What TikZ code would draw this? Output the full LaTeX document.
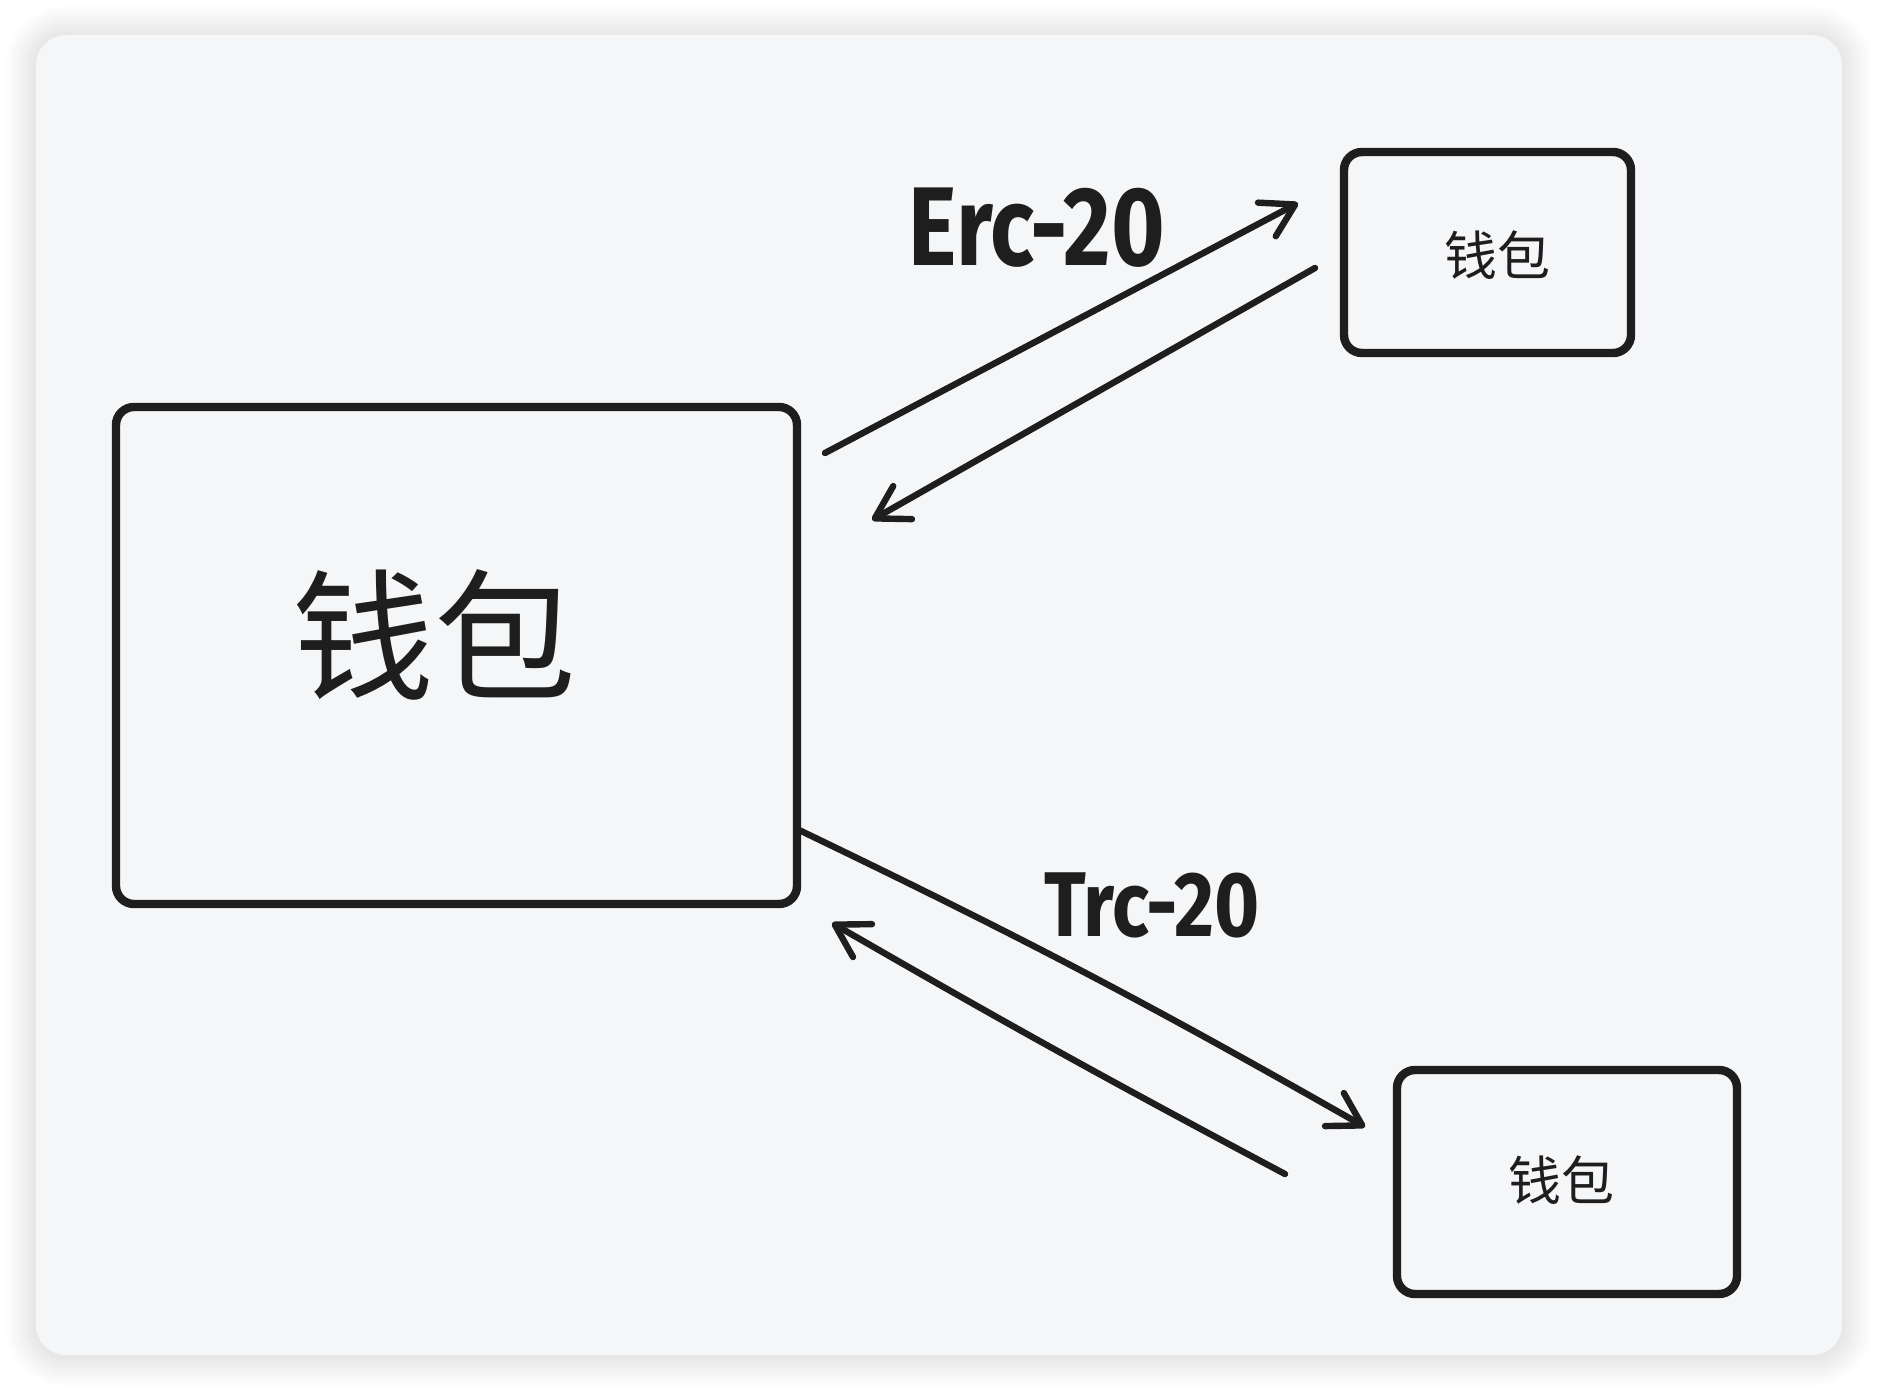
\documentclass[tikz,border=0pt]{standalone}
\usepackage{fontspec}
\setmainfont{Fira Sans}
\newfontfamily\cjk{Noto Sans CJK SC}
\usetikzlibrary{arrows.meta}
\definecolor{ink}{HTML}{1E1E1E}
\definecolor{card}{HTML}{F5F6F8}
\tikzset{
  sketchbox/.style={draw=ink, line width=4.2pt, rounded corners=9pt, fill=none},
  conn/.style={draw=ink, line width=3.2pt, line cap=round,
     -{Straight Barb[length=16pt,width=19pt,round]}},
  cjklabel/.style={text=ink, inner sep=0pt},
  edgelabel/.style={text=ink, inner sep=0pt, font=\bfseries\fontsize{56pt}{60pt}\selectfont},
}
\begin{document}
\begin{tikzpicture}[x=0.5pt,y=-0.5pt]
\useasboundingbox (0,0) rectangle (1878,1390);
% shadow
\foreach \i in {1,...,12}{
  \fill[black, opacity=0.008, rounded corners={15pt+1.25pt*\i}]
    ({36-2.5*\i},{36-2.5*\i}) rectangle ({1842+2.5*\i},{1356+2.5*\i});
}
% card
\fill[card, rounded corners=15pt] (36,35) rectangle (1842,1355);

% boxes
\node[sketchbox, minimum width=340.5pt, minimum height=248.5pt] (big) at (456.5,655.5) {};
\node[cjklabel, font=\cjk\fontsize{71pt}{74pt}\selectfont] (bigtext) at (434,635) {钱包};
\node[sketchbox, minimum width=143.5pt, minimum height=100.5pt] (top) at (1487.5,252.5) {};
\node[cjklabel, font=\cjk\fontsize{26.5pt}{28pt}\selectfont] (toptext) at (1497,255) {钱包};
\node[sketchbox, minimum width=170pt, minimum height=112pt] (bot) at (1567,1182) {};
\node[cjklabel, font=\cjk\fontsize{26.5pt}{28pt}\selectfont] (bottext) at (1561,1180) {钱包};

% connector endpoints
\coordinate (e1s) at (825,453);
\coordinate (e1t) at (1298,203);
\coordinate (e2s) at (1315,268);
\coordinate (e2t) at (872,520);
\coordinate (t1s) at (799,830);
\coordinate (t1t) at (1365,1127);
\coordinate (t2s) at (1285,1174);
\coordinate (t2t) at (832,923);

\draw[conn] (e1s) -- (e1t);
\draw[conn] (e2s) -- (e2t);
\draw[conn] (t1s) to[bend left=2] (t1t);
\draw[conn] (t2s) to[bend left=1] (t2t);

% labels
\node[edgelabel] (erc) at (1037,228) {\scalebox{0.82}[1]{Erc-20}};
\node[edgelabel, font=\bfseries\fontsize{46pt}{50pt}\selectfont] (trc) at (1152,905) {\scalebox{0.84}[1]{Trc-20}};
\end{tikzpicture}
\end{document}
